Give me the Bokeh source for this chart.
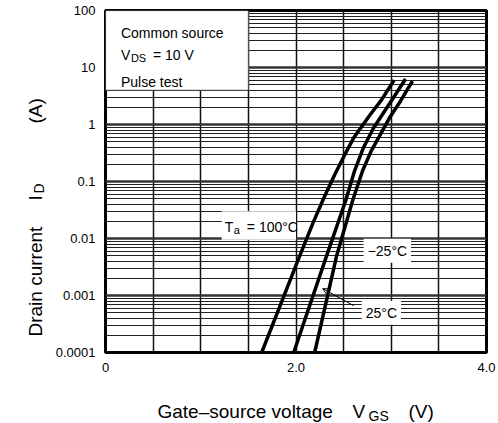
from bokeh.plotting import figure
from bokeh.layouts import column, row
from bokeh.models import (Range1d, FixedTicker, Label, BoxAnnotation, Arrow,
                          OpenHead)
from bokeh.embed import file_html
from bokeh.resources import INLINE
import math

# ID–VGS transfer characteristics (common source, VDS = 10 V, pulse test)
vgs_100 = [1.64, 2.04, 2.18, 2.30, 2.41, 2.50, 2.61, 2.78, 2.89, 3.03]
id_100 = [1e-4, 0.005, 0.019, 0.055, 0.135, 0.27, 0.60, 1.5, 2.59, 6.0]

vgs_25 = [1.976, 2.322, 2.521, 2.615, 2.71, 2.814, 3.0, 3.15]
id_25 = [1e-4, 0.005, 0.046, 0.154, 0.40, 0.87, 2.59, 6.3]

vgs_m25 = [2.196, 2.427, 2.594, 2.699, 2.79, 2.982, 3.098, 3.223]
id_m25 = [1e-4, 0.005, 0.046, 0.154, 0.345, 1.31, 2.59, 5.8]

x_ticks = [0, 2, 4]
x_tick_labels = ["0", "2.0", "4.0"]
y_ticks = [1e-4, 1e-3, 1e-2, 1e-1, 1, 10, 100]
y_tick_labels = ["0.0001", "0.001", "0.01", "0.1", "1", "10", "100"]
v_grid = [0.5, 1.0, 1.5, 2.0, 2.5, 3.0, 3.5]

FONT = "Liberation Sans"

p = figure(width=448, height=377, y_axis_type="log",
           x_range=Range1d(0, 4), y_range=Range1d(1e-4, 100),
           output_backend="svg", toolbar_location=None,
           min_border_left=55, min_border_right=12,
           min_border_top=10, min_border_bottom=25)
p.background_fill_color = "white"
p.border_fill_color = "white"
p.outline_line_color = "black"
p.outline_line_width = 3

# axes: labels only, the frame acts as the axis line
for ax in (p.xaxis[0], p.yaxis[0]):
    ax.axis_line_color = None
    ax.major_tick_line_color = None
    ax.minor_tick_line_color = None
    ax.major_label_text_font = FONT
    ax.major_label_text_font_size = "13px"
    ax.major_label_text_color = "black"

p.xaxis.ticker = FixedTicker(ticks=x_ticks)
p.xaxis.major_label_overrides = {t: s for t, s in zip(x_ticks, x_tick_labels)}
p.xaxis.major_label_standoff = 4
p.yaxis.ticker = FixedTicker(ticks=y_ticks)
p.yaxis.major_label_overrides = {t: s for t, s in zip(y_ticks, y_tick_labels)}
p.yaxis.major_label_standoff = 4

# grid: every 0.5 V, and 1..9 per decade
p.xgrid.ticker = FixedTicker(ticks=v_grid)
p.xgrid.grid_line_color = "#111111"
p.xgrid.grid_line_width = 1.5

minor = [m * 10.0 ** k for k in range(-4, 2) for m in range(2, 10)]
p.ygrid.ticker = FixedTicker(ticks=y_ticks[1:-1], minor_ticks=minor)
p.ygrid.grid_line_color = "#333333"
p.ygrid.grid_line_width = 2.5
p.ygrid.minor_grid_line_color = "#222222"
p.ygrid.minor_grid_line_width = 1

# the three temperature curves
for xs, ys in ((vgs_100, id_100), (vgs_25, id_25), (vgs_m25, id_m25)):
    p.line(xs, ys, line_color="black", line_width=3.5, line_join="round")

# conditions box in the upper left corner
p.add_layout(BoxAnnotation(left=0, right=1.5, bottom=4, top=100,
                           fill_color="white", fill_alpha=1.0,
                           line_color="#111111", line_width=1.5))


def txt(fig, x, y, s, size="14px", dx=0, dy=0, bg=None, angle=0.0,
        units="data"):
    lab = Label(x=x, y=y, text=s, x_offset=dx, y_offset=dy,
                x_units=units, y_units=units,
                text_font=FONT, text_font_size=size, text_color="black",
                text_baseline="alphabetic", text_align="left", angle=angle)
    if bg:
        lab.background_fill_color = bg
        lab.background_fill_alpha = 1.0
        lab.padding = 4
    fig.add_layout(lab)
    return lab


txt(p, 0.162, 40.2, "Common source")
txt(p, 0.162, 16.5, "V")
txt(p, 0.162, 16.5, "DS", size="11px", dx=10, dy=-3)
txt(p, 0.162, 16.5, "= 10 V", dx=32)
txt(p, 0.162, 5.57, "Pulse test")

# curve labels on white patches
p.add_layout(BoxAnnotation(left=1.22, right=2.0, bottom=0.0095, top=0.03,
                           fill_color="white", fill_alpha=1.0, line_color=None))
txt(p, 1.253, 0.0161, "T")
txt(p, 1.253, 0.0161, "a", size="11px", dx=9, dy=-3)
txt(p, 1.253, 0.0161, "= 100°C", dx=22)

txt(p, 2.71, 0.0061, "\u221225°C", bg="white")
txt(p, 2.69, 5.0e-4, "25°C", bg="white")

p.add_layout(Arrow(x_start=2.605, y_start=6.65e-4, x_end=2.28, y_end=1.32e-3,
                   line_color="black", line_width=1,
                   end=OpenHead(size=7, line_color="black", line_width=1)))


def strip(width, height):
    f = figure(width=width, height=height, x_range=Range1d(0, 1),
               y_range=Range1d(0, 1), output_backend="svg",
               toolbar_location=None, x_axis_location=None,
               y_axis_location=None, min_border=0)
    f.outline_line_color = None
    f.background_fill_color = "white"
    f.border_fill_color = "white"
    f.grid.visible = False
    return f


# y-axis title strip (left)
left = strip(50, 377)
up = math.pi / 2
txt(left, 35, 336, "Drain current", size="19px", angle=up, units="canvas")
txt(left, 35, 200, "I", size="19px", angle=up, units="canvas")
txt(left, 38, 193, "D", size="14px", angle=up, units="canvas")
txt(left, 35, 123, "(A)", size="19px", angle=up, units="canvas")

# x-axis title strip (bottom)
bottom = strip(498, 46)
txt(bottom, 157, 34, "Gate\u2013source voltage", size="19px", units="canvas")
txt(bottom, 352, 34, "V", size="19px", units="canvas")
txt(bottom, 368, 38, "GS", size="14px", units="canvas")
txt(bottom, 408, 34, "(V)", size="19px", units="canvas")

layout = column(row(left, p), bottom)
open("out.html", "w").write(file_html(layout, INLINE))
